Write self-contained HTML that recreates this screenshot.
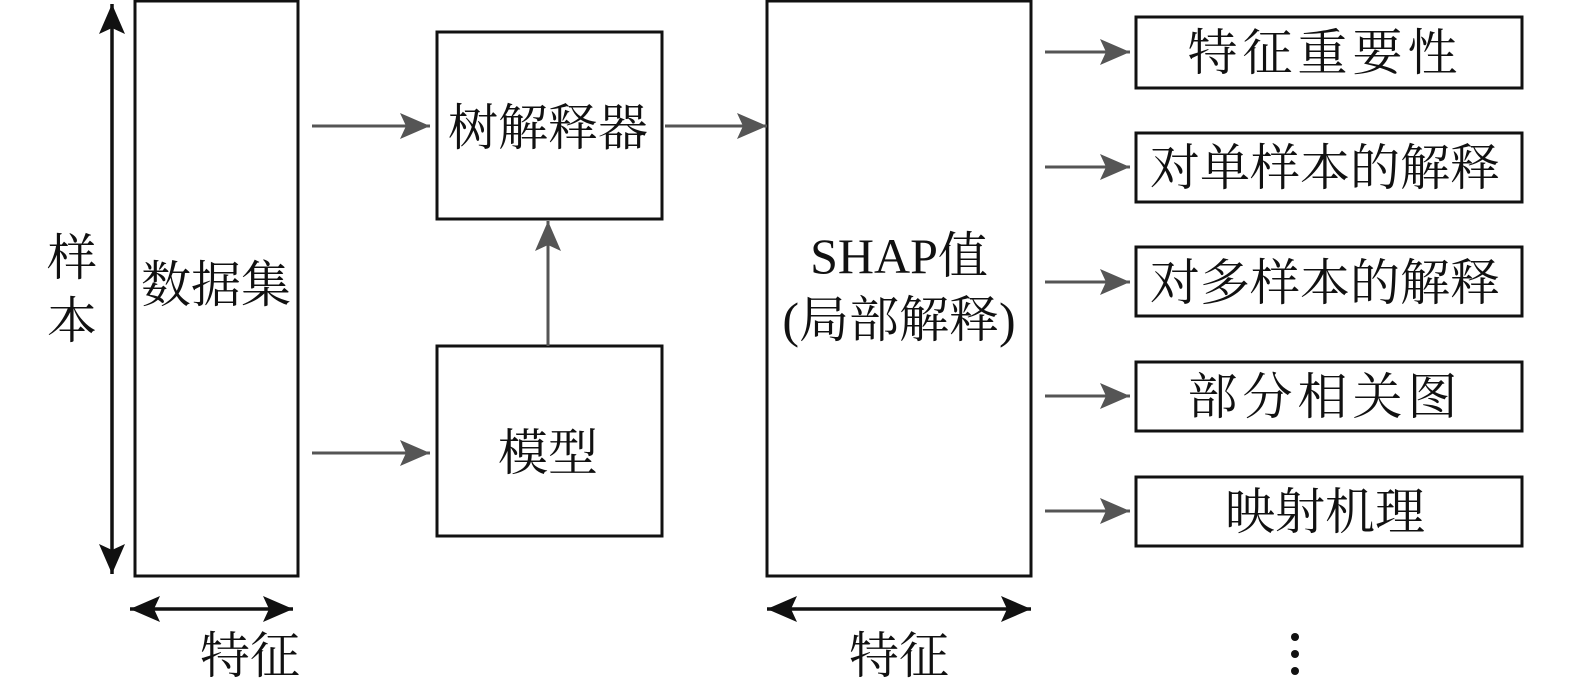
<!DOCTYPE html>
<html><head><meta charset="utf-8"><style>
html,body{margin:0;padding:0;background:#fff;}
svg{display:block;}
text{font-family:"Liberation Serif","Noto Serif CJK SC",serif;fill:#111;font-size:50px;text-anchor:middle;}
</style></head><body>
<svg width="1575" height="684" viewBox="0 0 1575 684" xmlns="http://www.w3.org/2000/svg">
<defs>
<marker id="g" markerWidth="34" markerHeight="30" refX="30" refY="15" orient="auto" markerUnits="userSpaceOnUse">
<path d="M0,2 L30,15 L0,28 L6,15 Z" fill="#555"/></marker>
<marker id="b" markerWidth="34" markerHeight="30" refX="30" refY="15" orient="auto" markerUnits="userSpaceOnUse">
<path d="M0,2 L30,15 L0,28 L6,15 Z" fill="#111"/></marker>
<marker id="bs" markerWidth="34" markerHeight="30" refX="0" refY="15" orient="auto" markerUnits="userSpaceOnUse">
<path d="M30,2 L0,15 L30,28 L24,15 Z" fill="#111"/></marker>
</defs>
<g fill="none" stroke="#111" stroke-width="3">
<rect x="135" y="1" width="163" height="575"/>
<rect x="437" y="32" width="225" height="187"/>
<rect x="437" y="346" width="225" height="190"/>
<rect x="767" y="1" width="264" height="575"/>
<rect x="1136" y="17" width="386" height="71"/>
<rect x="1136" y="133" width="386" height="69"/>
<rect x="1136" y="247" width="386" height="69"/>
<rect x="1136" y="362" width="386" height="69"/>
<rect x="1136" y="477" width="386" height="69"/>
</g>
<g stroke="#111" stroke-width="3.5">
<line x1="112" y1="4" x2="112" y2="574" marker-start="url(#bs)" marker-end="url(#b)"/>
<line x1="130" y1="609" x2="293" y2="609" marker-start="url(#bs)" marker-end="url(#b)"/>
<line x1="767" y1="609" x2="1031" y2="609" marker-start="url(#bs)" marker-end="url(#b)"/>
</g>
<g stroke="#555" stroke-width="3">
<line x1="312" y1="126" x2="430" y2="126" marker-end="url(#g)"/>
<line x1="312" y1="453" x2="430" y2="453" marker-end="url(#g)"/>
<line x1="665" y1="126" x2="767" y2="126" marker-end="url(#g)"/>
<line x1="548" y1="346" x2="548" y2="221" marker-end="url(#g)"/>
<line x1="1045" y1="52" x2="1130" y2="52" marker-end="url(#g)"/>
<line x1="1045" y1="167" x2="1130" y2="167" marker-end="url(#g)"/>
<line x1="1045" y1="282" x2="1130" y2="282" marker-end="url(#g)"/>
<line x1="1045" y1="396" x2="1130" y2="396" marker-end="url(#g)"/>
<line x1="1045" y1="511" x2="1130" y2="511" marker-end="url(#g)"/>
</g>
<text x="72" y="275">样</text>
<text x="72" y="338">本</text>
<text x="216" y="302">数据集</text>
<text x="250" y="673">特征</text>
<text x="548" y="145">树解释器</text>
<text x="548" y="470">模型</text>
<text x="899" y="273">SHAP值</text>
<text x="899" y="337">(局部解释)</text>
<text x="899" y="673">特征</text>
<text x="1325" y="70" letter-spacing="5">特征重要性</text>
<text x="1325" y="185">对单样本的解释</text>
<text x="1325" y="300">对多样本的解释</text>
<text x="1325" y="414" letter-spacing="5">部分相关图</text>
<text x="1325" y="529">映射机理</text>
<g fill="#111"><circle cx="1295" cy="637" r="4"/><circle cx="1295" cy="654" r="4"/><circle cx="1295" cy="671" r="4"/></g>
</svg>
</body></html>
